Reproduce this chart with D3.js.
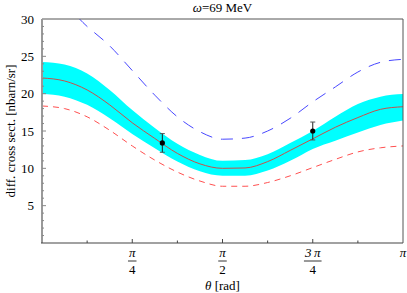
<!DOCTYPE html>
<html>
<head>
<meta charset="utf-8">
<script src="https://cdn.jsdelivr.net/npm/d3@7"></script>
<style>
  body { margin: 0; background: #fff; }
  text { font-family: "Liberation Serif", "DejaVu Serif", serif; }
</style>
</head>
<body>
<div id="chart"></div>
<script>
// sample angles, in units of pi
var thetaPi = [0, 0.0625, 0.125, 0.1875, 0.25, 0.3125, 0.375, 0.4375, 0.5,
               0.5625, 0.625, 0.6875, 0.75, 0.8125, 0.875, 0.9375, 1];

// central prediction and its error band
var central   = [22.1, 21.7, 20.5, 18.5, 16.1, 14.0, 12.0, 10.6, 10.0,
                 10.05, 10.9, 12.4, 13.95, 15.5, 16.8, 17.9, 18.25];
var bandUpper = [24.25, 23.9, 22.7, 20.5, 17.8, 15.4, 13.3, 11.8, 11.0,
                 11.1, 11.9, 13.4, 15.0, 16.9, 18.6, 19.6, 19.95];
var bandLower = [19.95, 19.6, 18.5, 16.7, 14.6, 12.7, 10.9, 9.6, 9.0,
                 9.0, 9.7, 11.0, 12.6, 13.7, 14.8, 15.8, 16.4];

// dashed curves
var redDashed  = [18.35, 18.0, 16.9, 15.1, 13.0, 11.1, 9.5, 8.3, 7.6,
                  7.6, 8.1, 9.0, 10.1, 11.2, 12.2, 12.75, 13.0];
var blueDashed = [32.4, 31.7, 29.0, 26.4, 23.1, 19.8, 16.9, 14.9, 13.9,
                  14.05, 15.0, 16.7, 18.9, 20.9, 22.9, 24.2, 24.6];

// measured points
var dataTheta = [1 / 3, 0.75];   // in units of pi
var dataValue = [13.4, 15.0];
var dataError = [1.25, 1.2];

var yTicks = [5, 10, 15, 20, 25, 30];
var xTickPi = [0.25, 0.5, 0.75, 1];
var xTickNum = ["\u03c0", "\u03c0", "3\u2009\u03c0", "\u03c0"];
var xTickDen = ["4", "2", "4", ""];

var width = 407, height = 293
  , margin = { left: 42, right: 4, top: 19, bottom: 50 };

var x = d3.scaleLinear().domain([0, Math.PI]).range([margin.left, width - margin.right]);
var y = d3.scaleLinear().domain([0, 30]).range([height - margin.bottom, margin.top]);

var svg = d3.select("#chart").append("svg")
    .attr("width", width)
    .attr("height", height);

svg.append("clipPath").attr("id", "plotclip")
  .append("rect")
    .attr("x", x(0)).attr("y", y(30))
    .attr("width", x(Math.PI) - x(0))
    .attr("height", y(0) - y(30));

var pts = thetaPi.map(function(t, i) { return { t: t * Math.PI, i: i }; });

var plot = svg.append("g").attr("clip-path", "url(#plotclip)");

// error band
plot.append("path")
  .datum(pts)
  .attr("fill", "#00ffff")
  .attr("d", d3.area()
      .curve(d3.curveMonotoneX)
      .x(function(d) { return x(d.t); })
      .y0(function(d) { return y(bandLower[d.i]); })
      .y1(function(d) { return y(bandUpper[d.i]); }));

function curve(vals) {
  return d3.line()
    .curve(d3.curveMonotoneX)
    .x(function(d) { return x(d.t); })
    .y(function(d) { return y(vals[d.i]); })(pts);
}

plot.append("path")
  .attr("d", curve(central))
  .attr("fill", "none")
  .attr("stroke", "#c8504a")
  .attr("stroke-width", 1);

plot.append("path")
  .attr("d", curve(redDashed))
  .attr("fill", "none")
  .attr("stroke", "#ff5050")
  .attr("stroke-width", 1)
  .attr("stroke-dasharray", "6,5");

plot.append("path")
  .attr("d", curve(blueDashed))
  .attr("fill", "none")
  .attr("stroke", "#4848ff")
  .attr("stroke-width", 1)
  .attr("stroke-dasharray", "12,9");

// data points with error bars
var pg = svg.append("g");
dataTheta.forEach(function(t, i) {
  var cx = x(t * Math.PI)
    , top = y(dataValue[i] + dataError[i])
    , bot = y(dataValue[i] - dataError[i]);
  pg.append("line").attr("x1", cx).attr("x2", cx).attr("y1", top).attr("y2", bot)
    .attr("stroke", "#222").attr("stroke-width", 1);
  [top, bot].forEach(function(yy) {
    pg.append("line").attr("x1", cx - 2.5).attr("x2", cx + 2.5).attr("y1", yy).attr("y2", yy)
      .attr("stroke", "#555").attr("stroke-width", 1);
  });
  pg.append("circle").attr("cx", cx).attr("cy", y(dataValue[i])).attr("r", 2.6)
    .attr("fill", "#000");
});

// frame: top and right
svg.append("path")
  .attr("d", "M" + x(0) + "," + y(30) + "H" + x(Math.PI) + "V" + y(0))
  .attr("fill", "none")
  .attr("stroke", "#555")
  .attr("stroke-width", 1);

// y axis
var yAxis = svg.append("g");
yAxis.append("line")
  .attr("x1", x(0)).attr("x2", x(0)).attr("y1", y(0)).attr("y2", y(30))
  .attr("stroke", "#999").attr("stroke-width", 2);
d3.range(1, 30).forEach(function(v) {
  var major = v % 5 === 0;
  yAxis.append("line")
    .attr("x1", x(0)).attr("x2", x(0) + (major ? 4 : 2))
    .attr("y1", y(v)).attr("y2", y(v))
    .attr("stroke", "#888").attr("stroke-width", 1);
});
yAxis.selectAll("text.ytick")
  .data(yTicks).enter().append("text")
    .attr("class", "ytick")
    .attr("x", x(0) - 8)
    .attr("y", function(d) { return y(d) + 4.5; })
    .attr("text-anchor", "end")
    .attr("font-size", 13)
    .text(function(d) { return d; });

// x axis
var xAxis = svg.append("g");
xAxis.append("line")
  .attr("x1", x(0) - 1).attr("x2", x(Math.PI)).attr("y1", y(0)).attr("y2", y(0))
  .attr("stroke", "#444").attr("stroke-width", 1.2);
[0.125, 0.25, 0.375, 0.5, 0.625, 0.75, 0.875].forEach(function(t) {
  var major = (t * 4) % 1 === 0;
  xAxis.append("line")
    .attr("x1", x(t * Math.PI)).attr("x2", x(t * Math.PI))
    .attr("y1", y(0)).attr("y2", y(0) - (major ? 4 : 2.5))
    .attr("stroke", "#444").attr("stroke-width", 1);
});
xTickPi.forEach(function(t, i) {
  var cx = x(t * Math.PI);
  if (xTickDen[i] === "") {
    xAxis.append("text").attr("x", cx).attr("y", y(0) + 14)
      .attr("text-anchor", "middle").attr("font-size", 13).attr("font-style", "italic")
      .text(xTickNum[i]);
    return;
  }
  var num = xAxis.append("text").attr("x", cx).attr("y", y(0) + 14)
    .attr("text-anchor", "middle").attr("font-size", 13).attr("font-style", "italic")
    .text(xTickNum[i]);
  var w = num.node().getComputedTextLength() + 2;
  xAxis.append("line")
    .attr("x1", cx - w / 2).attr("x2", cx + w / 2)
    .attr("y1", y(0) + 18).attr("y2", y(0) + 18)
    .attr("stroke", "#000").attr("stroke-width", 0.8);
  xAxis.append("text").attr("x", cx).attr("y", y(0) + 31)
    .attr("text-anchor", "middle").attr("font-size", 13)
    .text(xTickDen[i]);
});

// axis labels and title
var xl = svg.append("text")
  .attr("x", x(Math.PI / 2)).attr("y", 290)
  .attr("text-anchor", "middle").attr("font-size", 13);
xl.append("tspan").attr("font-style", "italic").text("\u03b8");
xl.append("tspan").text(" [rad]");

svg.append("text")
  .attr("transform", "translate(15," + ((y(0) + y(30)) / 2) + ") rotate(-90)")
  .attr("text-anchor", "middle").attr("font-size", 13)
  .text("diff. cross sect. [nbarn/sr]");

var title = svg.append("text")
  .attr("x", x(Math.PI / 2)).attr("y", 12)
  .attr("text-anchor", "middle").attr("font-size", 13);
title.append("tspan").attr("font-style", "italic").text("\u03c9");
title.append("tspan").text("=69 MeV");
</script>
</body>
</html>
